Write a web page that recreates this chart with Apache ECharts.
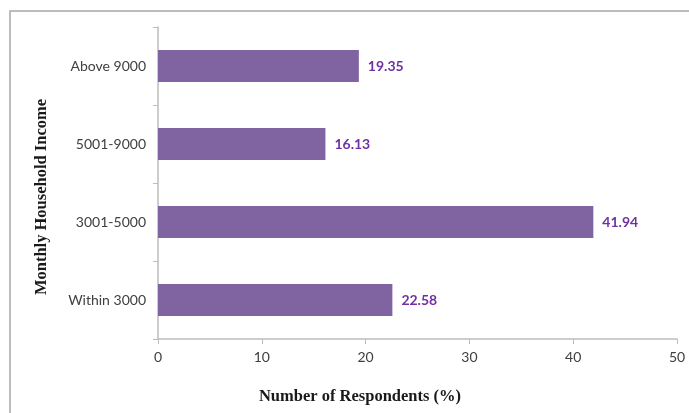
<!DOCTYPE html>
<html>
<head>
<meta charset="utf-8">
<script src="https://cdn.jsdelivr.net/npm/echarts@6/dist/echarts.min.js"></script>
<style>
  html, body {margin: 0; padding: 0; background: #fff;}
  #chart {width: 689px; height: 413px;}
</style>
</head>
<body>
<div id="chart"></div>
<script>
// income groups, bottom to top as drawn
const categories = ['Within 3000', '3001-5000', '5001-9000', 'Above 9000'];
const respondents = [22.58, 41.94, 16.13, 19.35];
const xTicks = [0, 10, 20, 30, 40, 50];

const chart = echarts.init(document.getElementById('chart'));
const labelFont = 'Lato, "Open Sans", sans-serif';
const titleFont = '"Liberation Serif", "DejaVu Serif", serif';

chart.setOption({
  animation: false,
  grid: {left: 158, right: 12, top: 27, bottom: 74},
  graphic: [
    {
      type: 'rect',
      shape: {x: 10, y: 11, width: 800, height: 600},
      style: {fill: 'none', stroke: '#a6a6a6', lineWidth: 1.5}
    },
    {
      type: 'text',
      x: 360, y: 397,
      style: {
        text: 'Number of Respondents (%)',
        font: 'bold 16.5px ' + titleFont,
        fill: '#1a1a1a',
        align: 'center',
        verticalAlign: 'middle'
      }
    },
    {
      type: 'text',
      x: 42, y: 197,
      rotation: Math.PI / 2,
      style: {
        text: 'Monthly Household Income',
        font: 'bold 16.5px ' + titleFont,
        fill: '#1a1a1a',
        align: 'center',
        verticalAlign: 'middle'
      }
    }
  ],
  xAxis: {
    type: 'value',
    min: xTicks[0],
    max: xTicks[xTicks.length - 1],
    interval: 10,
    splitLine: {show: false},
    axisLine: {show: true, lineStyle: {color: '#bdbdbd', width: 1.5}},
    axisTick: {show: true, length: 5, lineStyle: {color: '#bdbdbd'}},
    axisLabel: {color: '#404040', fontFamily: labelFont, fontSize: 14, margin: 11}
  },
  yAxis: {
    type: 'category',
    data: categories,
    axisLine: {show: true, lineStyle: {color: '#bdbdbd', width: 1.5}},
    axisTick: {show: true, length: 5, lineStyle: {color: '#bdbdbd'}},
    axisLabel: {color: '#404040', fontFamily: labelFont, fontSize: 14, margin: 12}
  },
  series: [{
    type: 'bar',
    data: respondents,
    barWidth: '41%',
    itemStyle: {color: '#8064a2'},
    label: {
      show: true,
      position: 'right',
      distance: 9,
      color: '#7030a0',
      fontWeight: 'bold',
      fontFamily: labelFont,
      fontSize: 14,
      formatter: p => p.value.toFixed(2)
    }
  }]
});
</script>
</body>
</html>
